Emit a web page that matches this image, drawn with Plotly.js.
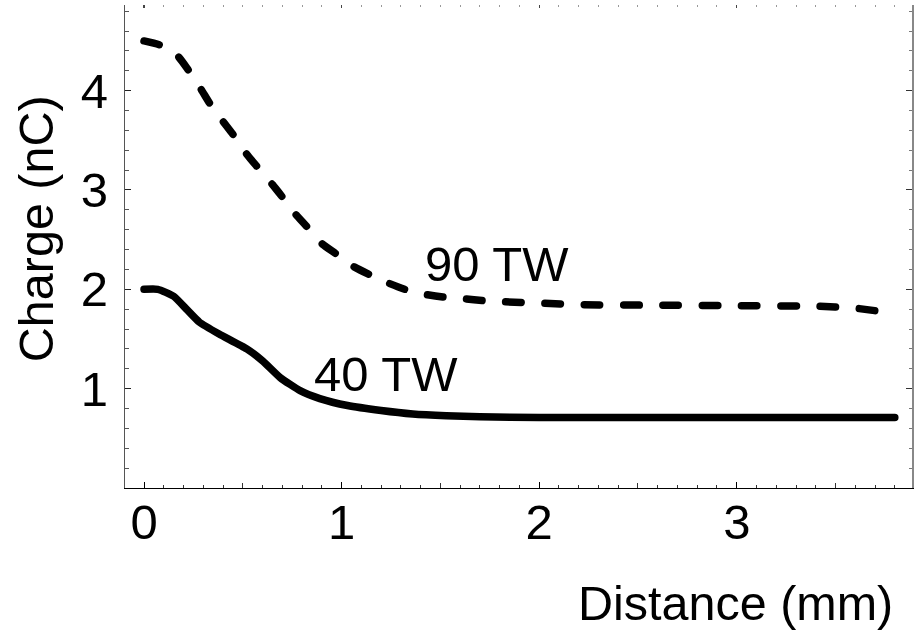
<!DOCTYPE html>
<html>
<head>
<meta charset="utf-8">
<script src="https://cdn.plot.ly/plotly-3.0.1.min.js"></script>
<style>
html, body { margin: 0; padding: 0; background: #fff; }
#chart { width: 914px; height: 632px; }
.scatterlayer .js-line { stroke-linecap: round !important; stroke-linejoin: round !important; }
</style>
</head>
<body>
<div id="chart"></div>
<script>
// Distance (mm)
const x40 = [0, 0.07, 0.15, 0.22, 0.28, 0.38, 0.52, 0.60, 0.69, 0.79, 0.89, 1.03, 1.20, 1.36, 1.53, 1.70, 2.0, 2.5, 3.0, 3.5, 3.8];
// Charge (nC), 40 TW
const y40 = [2.0, 2.0, 1.93, 1.79, 1.67, 1.55, 1.40, 1.28, 1.11, 0.98, 0.90, 0.83, 0.78, 0.745, 0.727, 0.717, 0.71, 0.71, 0.71, 0.71, 0.71];

const x90 = [0, 0.08, 0.17, 0.22, 0.29, 0.33, 0.40, 0.45, 0.52, 0.57, 0.65, 0.70, 0.77, 0.82, 0.90, 0.97, 1.06, 1.14, 1.24, 1.32, 1.42, 1.52, 1.62, 1.72, 1.82, 2.02, 2.22, 2.6, 3.0, 3.4, 3.6, 3.72, 3.8];
// Charge (nC), 90 TW
const y90 = [4.5, 4.46, 4.35, 4.22, 4.01, 3.88, 3.69, 3.56, 3.36, 3.24, 3.055, 2.93, 2.75, 2.64, 2.46, 2.36, 2.23, 2.15, 2.06, 2.0, 1.95, 1.92, 1.905, 1.885, 1.875, 1.86, 1.845, 1.84, 1.835, 1.83, 1.81, 1.78, 1.765];

const xTicks = [0, 1, 2, 3];
const yTicks = [1, 2, 3, 4];
const seriesLabels = ["40 TW", "90 TW"];
const labelX = [1.225, 1.787];
const labelY = [1.15, 2.25];

const FONT = "Liberation Sans, Arial, Helvetica, sans-serif";
const FS = 49;
const FT = 48.5;

const traces = [
  { x: x40, y: y40, type: 'scatter', mode: 'lines', name: seriesLabels[0],
    line: { color: '#000', width: 7.5, shape: 'spline', smoothing: 0.5 }, hoverinfo: 'skip' },
  { x: x90, y: y90, type: 'scatter', mode: 'lines', name: seriesLabels[1],
    line: { color: '#000', width: 7.5, shape: 'spline', smoothing: 0.5, dash: '15.5px,23.8px' }, hoverinfo: 'skip' },
  { x: [], y: [], xaxis: 'x2', yaxis: 'y2', type: 'scatter', mode: 'lines', showlegend: false, hoverinfo: 'skip' },
  { x: [], y: [], xaxis: 'x3', yaxis: 'y', type: 'scatter', mode: 'lines', showlegend: false, hoverinfo: 'skip' }
];

const XR = [-0.0962, 3.887];
const YR = [0, 4.862];

const layout = {
  width: 914, height: 632,
  margin: { l: 125, r: 2, t: 5, b: 144 },
  paper_bgcolor: '#fff', plot_bgcolor: '#fff',
  showlegend: false,
  font: { family: FONT, size: FS, color: '#000' },
  xaxis: {
    range: XR, tickvals: xTicks, ticktext: xTicks.map(String),
    ticks: 'inside', ticklen: 6, tickwidth: 1, tickcolor: '#000',
    showline: true, linecolor: '#000', linewidth: 1.2,
    showgrid: false, zeroline: false,
    tickfont: { family: FONT, size: FS, color: '#000' },
    ticklabelstandoff: -9,
    minor: { dtick: 0.1, tick0: 0, ticks: 'inside', ticklen: 3, tickwidth: 1, tickcolor: '#333', showgrid: false }
  },
  xaxis3: {
    range: XR, overlaying: 'x', anchor: 'y', side: 'bottom',
    tickvals: [0.5, 1.5, 2.5, 3.5], ticks: 'inside', ticklen: 5, tickwidth: 1, tickcolor: '#333',
    showticklabels: false, showline: false, showgrid: false, zeroline: false
  },
  xaxis2: {
    range: XR, overlaying: 'x', anchor: 'y2', side: 'top',
    tickvals: xTicks, ticks: 'inside', ticklen: 3, tickwidth: 1.2, tickcolor: '#444',
    showticklabels: false, showline: false, showgrid: false, zeroline: false,
    minor: { dtick: 0.1, tick0: 0, ticks: 'inside', ticklen: 1.5, tickwidth: 1, tickcolor: '#999', showgrid: false }
  },
  yaxis: {
    range: YR, tickvals: yTicks, ticktext: yTicks.map(String),
    ticks: 'inside', ticklen: 6, tickwidth: 1, tickcolor: '#222',
    showline: true, linecolor: '#555', linewidth: 1.2,
    showgrid: false, zeroline: false,
    tickfont: { family: FONT, size: FS, color: '#000' },
    ticklabelstandoff: 6,
    minor: { dtick: 0.2, tick0: 0, ticks: 'inside', ticklen: 4, tickwidth: 1, tickcolor: '#555', showgrid: false }
  },
  yaxis2: {
    range: YR, overlaying: 'y', anchor: 'x2', side: 'right',
    tickvals: yTicks, ticks: 'inside', ticklen: 6, tickwidth: 1, tickcolor: '#333',
    showline: true, linecolor: '#888', linewidth: 1.5,
    showticklabels: false, showgrid: false, zeroline: false,
    minor: { dtick: 0.2, tick0: 0, ticks: 'inside', ticklen: 3, tickwidth: 1, tickcolor: '#777', showgrid: false }
  },
  annotations: [
    { x: labelX[0], y: labelY[0], xref: 'x', yref: 'y', text: seriesLabels[0], showarrow: false,
      font: { family: FONT, size: FS, color: '#000' }, xanchor: 'center', yanchor: 'middle' },
    { x: labelX[1], y: labelY[1], xref: 'x', yref: 'y', text: seriesLabels[1], showarrow: false,
      font: { family: FONT, size: FS, color: '#000' }, xanchor: 'center', yanchor: 'middle' },
    { x: 0.978, y: -0.238, xref: 'paper', yref: 'paper', text: 'Distance (mm)', showarrow: false,
      font: { family: FONT, size: FT, color: '#000' }, xanchor: 'right', yanchor: 'middle' },
    { x: -0.113, y: 0.536, xref: 'paper', yref: 'paper', text: 'Charge (nC)', showarrow: false, textangle: -90,
      font: { family: FONT, size: FT, color: '#000' }, xanchor: 'center', yanchor: 'middle' }
  ]
};

Plotly.newPlot('chart', traces, layout, { staticPlot: true, displayModeBar: false });
</script>
</body>
</html>
